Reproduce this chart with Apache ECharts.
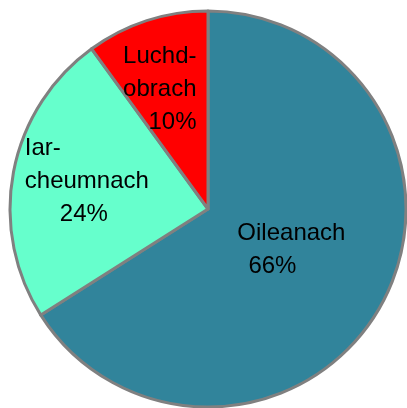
<!DOCTYPE html>
<html>
<head>
<meta charset="utf-8">
<script src="https://cdn.jsdelivr.net/npm/echarts@6/dist/echarts.min.js"></script>
<style>
    html, body { margin: 0; padding: 0; background: #fff; }
    #chart { width: 407px; height: 408px; }
</style>
</head>
<body>
<div id="chart"></div>
<script>
let categories = ['Oileanach', 'Iar-cheumnach', 'Luchd-obrach'];
let values = [66, 24, 10];
let colors = ['#31849B', '#66FFCC', '#FF0000'];

// label text per slice (rich text, the lines are broken as in the original)
let labelTexts = [
    '{a|Oileanach}\n{b|66%}',
    '{l|Iar-}\n{l|cheumnach}\n{c|24%}',
    '{r|Luchd-}\n{r|obrach}\n{r|10%}'
];
// nudges from the default inside position
let labelShift = [[-6, -8], [-18, -9], [-20, -23]];

let myChart = echarts.init(document.getElementById('chart'));

let pieData = categories.map(function (name, i) {
    return {
        name: name,
        value: values[i],
        itemStyle: { color: colors[i] },
        label: { formatter: labelTexts[i] }
    };
});

let font = { fontSize: 24, fontFamily: 'Liberation Sans', color: '#000', lineHeight: 33 };

let option = {
    animation: false,
    series: [{
        type: 'pie',
        center: [208, 209],
        radius: 198,
        startAngle: 90,
        clockwise: true,
        data: pieData,
        itemStyle: {
            borderColor: '#808080',
            borderWidth: 3
        },
        label: Object.assign({
            position: 'inside',
            rich: {
                a: Object.assign({}, font),
                b: Object.assign({ width: 100, align: 'left', padding: [0, 0, 0, 14] }, font),
                l: Object.assign({ width: 130, align: 'left' }, font),
                c: Object.assign({ width: 95, align: 'left', padding: [0, 0, 0, 35] }, font),
                r: Object.assign({ width: 80, align: 'right' }, font)
            }
        }, font),
        labelLine: { show: false },
        labelLayout: function (params) {
            let s = labelShift[params.dataIndex];
            return { dx: s[0], dy: s[1] };
        },
        emphasis: { disabled: true }
    }]
};

myChart.setOption(option);
</script>
</body>
</html>
